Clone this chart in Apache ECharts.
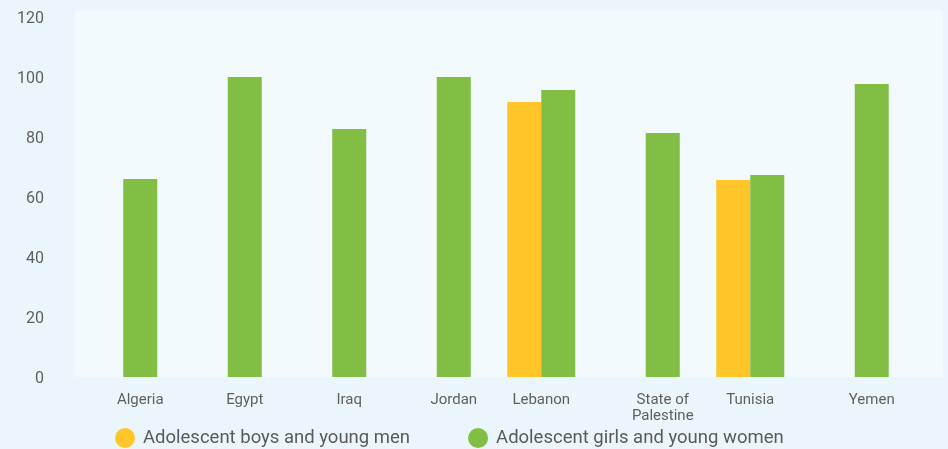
<!DOCTYPE html>
<html>
<head>
<meta charset="utf-8">
<script src="https://cdn.jsdelivr.net/npm/echarts@6/dist/echarts.min.js"></script>
<style>
html,body{margin:0;padding:0;background:#EAF6FC;}
#c{width:948px;height:449px;}
</style>
</head>
<body>
<div id="c"></div>
<script>
var categories = ['Algeria', 'Egypt', 'Iraq', 'Jordan', 'Lebanon', 'State of\nPalestine', 'Tunisia', 'Yemen'];
var boysValues = [null, null, null, null, 91.7, null, 65.7, null];
var girlsValues = [66, 100, 82.7, 100, 95.7, 81.3, 67.3, 97.7];
var seriesNames = ['Adolescent boys and young men', 'Adolescent girls and young women'];
var yTicks = [0, 20, 40, 60, 80, 100, 120];

var chart = echarts.init(document.getElementById('c'), null, {renderer: 'canvas'});

var xData = categories.map(function (c, i) {
  var single = boysValues[i] == null;
  return {
    value: c,
    textStyle: { padding: single ? [0, 0, 0, 34] : [0, 0, 0, 0] }
  };
});

chart.setOption({
  backgroundColor: '#EAF6FC',
  animation: false,
  graphic: [{
    type: 'rect',
    z: -10,
    silent: true,
    shape: { x: 75, y: 11, width: 868, height: 366 },
    style: { fill: '#F3FAFE' }
  }],
  grid: { left: 71, right: 41, top: 17, bottom: 72, containLabel: false },
  legend: {
    left: 115,
    top: 428,
    padding: 0,
    icon: 'circle',
    itemWidth: 20,
    itemHeight: 20,
    itemGap: 58,
    textStyle: { fontFamily: 'Roboto', fontSize: 18.5, color: '#5a5a5a', padding: [0, 0, 0, 3] },
    data: seriesNames
  },
  xAxis: {
    type: 'category',
    data: xData,
    axisLine: { show: false },
    axisTick: { show: false },
    axisLabel: {
      margin: 15,
      fontFamily: 'Roboto',
      fontSize: 15,
      lineHeight: 16,
      color: '#5f5f5f',
      interval: 0
    }
  },
  yAxis: {
    type: 'value',
    min: yTicks[0],
    max: yTicks[yTicks.length - 1],
    interval: yTicks[1] - yTicks[0],
    splitLine: { show: false },
    axisLine: { show: false },
    axisTick: { show: false },
    axisLabel: {
      margin: 27,
      formatter: '{a|{value}}',
      rich: {
        a: {
          fontFamily: 'Roboto',
          fontSize: 16,
          color: '#5f5f5f',
          padding: [4, 0, 0, 0]
        }
      }
    }
  },
  series: [
    {
      name: seriesNames[0],
      type: 'bar',
      data: boysValues,
      barWidth: 34,
      barGap: '0%',
      itemStyle: { color: '#FFC529' }
    },
    {
      name: seriesNames[1],
      type: 'bar',
      data: girlsValues,
      barWidth: 34,
      barGap: '0%',
      itemStyle: { color: '#82BD44' }
    }
  ]
});
</script>
</body>
</html>
